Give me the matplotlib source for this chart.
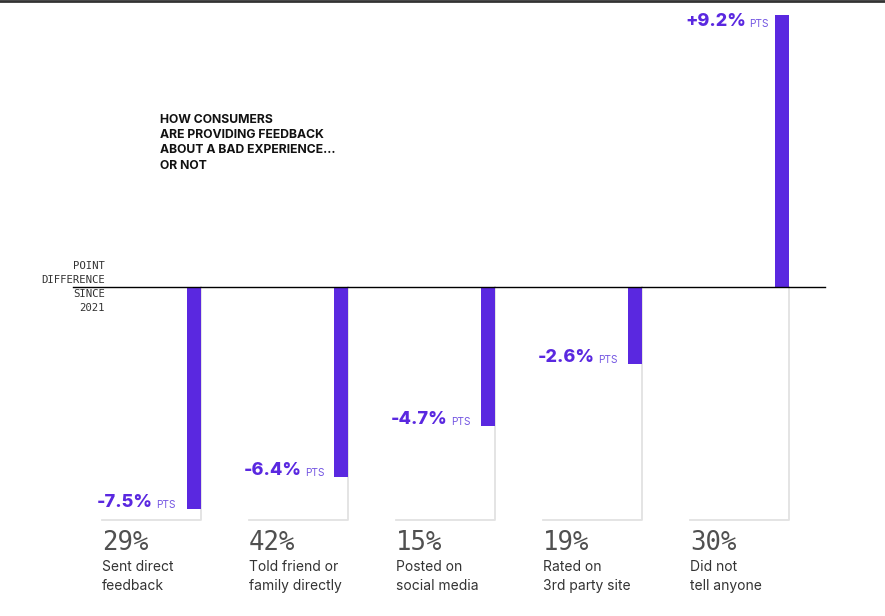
import numpy as np
import matplotlib.pyplot as plt
from matplotlib.lines import Line2D

# data
categories = ["Sent direct\nfeedback", "Told friend or\nfamily directly", "Posted on\nsocial media",
              "Rated on\n3rd party site", "Did not\ntell anyone"]
shares = ["29%", "42%", "15%", "19%", "30%"]
diffs = [-7.5, -6.4, -4.7, -2.6, 9.2]

purple = "#5a28e0"
box_gray = "#e2e2e2"

fig = plt.figure(figsize=(8.85, 6.16), dpi=100)
ax = fig.add_axes([0, 0, 1, 1])
ax.set_xlim(-1.32, 4.70)
ax.set_ylim(-11.11, 9.70)
ax.axis("off")

x = np.arange(len(diffs))
bw = 0.095
box_w = 0.673

# gray boxes behind each bar
box_bottom = -7.87
for i in x:
    right = i + bw / 2
    left = right - box_w
    ax.plot([right, right, left], [0, box_bottom, box_bottom], color=box_gray, lw=1.3, zorder=1)

ax.bar(x, diffs, width=bw, color=purple, zorder=3)

# baseline
ax.plot([-0.823, 4.293], [0, 0], color="black", lw=1, zorder=4)

# value labels, left-aligned just outside the box, "PTS" after the number
for i, v in zip(x, diffs):
    y = v + 0.22 if v < 0 else v - 0.22
    left = i + bw / 2 - box_w - 0.034
    t = ax.text(left, y, f"{v:+.1f}%", ha="left", va="center", fontsize=13,
                fontweight="heavy", color=purple, family="Inter")
    ax.annotate("PTS", xy=(1, 0.5), xycoords=t, xytext=(2.5, -1.8), textcoords="offset points",
                ha="left", va="center", fontsize=7.3, color="#7456e2", family="Inter")

# bottom labels
for i, s, c in zip(x, shares, categories):
    left = i + bw / 2 - box_w
    ax.text(left, -8.66, s, ha="left", va="center", fontsize=18.5,
            family="DejaVu Sans Mono", color="#505050")
    ax.text(left, -9.76, c, ha="left", va="center", fontsize=10,
            family="Inter", color="#333333", linespacing=1.45)

# axis note
ax.text(-0.605, 0.02, "POINT\nDIFFERENCE\nSINCE\n2021", ha="right", va="center",
        fontsize=7.7, family="DejaVu Sans Mono", color="#333333", linespacing=1.5)

# title
ax.text(-0.23, 5.85, "HOW CONSUMERS\nARE PROVIDING FEEDBACK\nABOUT A BAD EXPERIENCE...\nOR NOT",
        ha="left", va="top", fontsize=8.8, fontweight="bold", family="Inter",
        color="#111111", linespacing=1.36)

# top rule
fig.add_artist(Line2D([0, 1], [0.998, 0.998], color="#333333", lw=2, transform=fig.transFigure))

fig.savefig("out.png", dpi=100)
